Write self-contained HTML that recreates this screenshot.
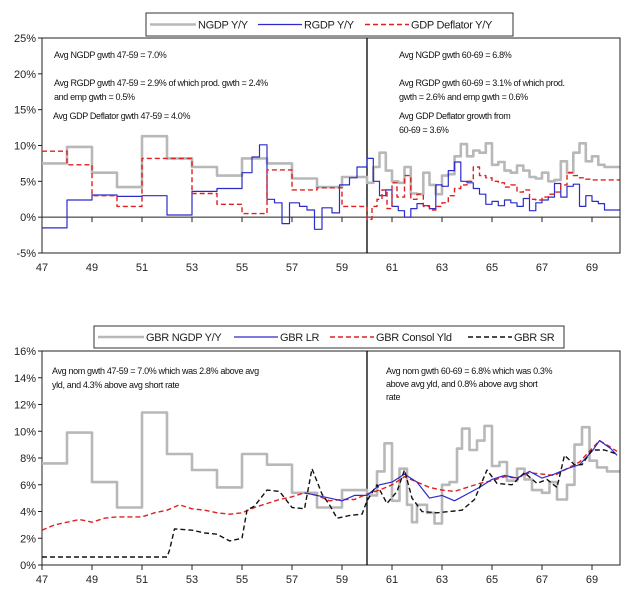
<!DOCTYPE html>
<html><head><meta charset="utf-8">
<style>
body{margin:0;background:#fff;}
svg{display:block;font-family:"Liberation Sans",sans-serif;}
.tk{font-size:11px;fill:#222;}
.ann{font-size:9px;fill:#111;letter-spacing:-0.35px;}
.lg{font-size:11px;fill:#222;letter-spacing:-0.3px;}
</style></head>
<body>
<svg id="c" width="622" height="591"></svg>
<script>
// ---- Top chart data (year, value %) ----
const ngdpX=[47,48,49,50,51,52,53,54,55,56,57,58,59,60,60.25,60.5,60.75,61,61.25,61.5,61.75,62,62.25,62.5,62.75,63,63.25,63.5,63.75,64,64.25,64.5,64.75,65,65.25,65.5,65.75,66,66.25,66.5,66.75,67,67.25,67.5,67.75,68,68.25,68.5,68.75,69,69.25,69.5,69.75];
const ngdpY=[7.5,9.8,6.2,4.2,11.3,8.2,7.0,5.8,8.2,7.5,5.4,4.2,5.6,4.8,7,9,6.5,5,4.8,7,3.3,3.2,6.2,4.5,3.2,5.8,6,8.5,10.2,8.5,9.3,9,10.3,7.3,7.7,6.5,6.2,7.2,6.5,5.6,5.4,6.2,5,5.2,7.8,6.2,9,10.3,7.8,8.5,7.3,7.0,7.0];
const rgdpX=[47,48,49,50,51,52,53,54,55,55.4,55.7,56,56.3,56.6,56.9,57.3,57.6,57.9,58.2,58.6,58.9,59.3,59.6,60,60.25,60.5,60.75,61,61.25,61.5,61.75,62,62.25,62.5,62.75,63,63.25,63.5,63.75,64,64.25,64.5,64.75,65,65.25,65.5,65.75,66,66.25,66.5,66.75,67,67.25,67.5,67.75,68,68.25,68.5,68.75,69,69.25,69.5];
const rgdpY=[-1.5,2.4,3.1,2.9,3.0,0.3,3.6,4.0,6.2,8.4,10.1,2.5,2,-0.9,2,1.5,1,-1.7,1.3,0.6,4.5,5.5,7,8.2,5,3,3.8,1.5,0.9,0,1.2,1.9,1.6,1.2,4.5,4.3,6.5,7.7,5,4.8,4,3.2,1.8,2.2,1.6,2.4,2,1.5,2.6,0.9,2.0,2.4,2.8,4.7,2.8,4.3,4.6,1.5,3,2.2,1.9,1.0];
const deflX=[47,48,49,50,51,52,53,54,55,56,57,58,59,60,60.2,60.4,60.6,60.8,61,61.2,61.5,61.75,62,62.25,62.5,62.75,63,63.25,63.5,63.75,64,64.25,64.5,64.75,65,65.25,65.5,65.75,66,66.25,66.5,66.75,67,67.25,67.5,67.75,68,68.25,68.5,68.75,69,69.5];
const deflY=[9.2,7.3,3.0,1.5,8.2,8.2,3.3,1.8,0.5,6.6,3.8,4.1,1.5,-0.3,1.5,2.5,3.8,1.2,4.8,2.8,5.8,2.5,3.2,1.5,1.0,1.5,2,3,4,4.5,5,7,5.8,5.5,5,4.8,4.2,4.5,3.5,3.8,2.5,2.4,2.8,3.2,3.5,4.5,6.2,5.8,5.5,5.3,5.2,5.2];
const topTicks=[25,20,15,10,5,0,-5];
const yearTicks=[47,49,51,53,55,57,59,61,63,65,67,69];
// ---- Bottom chart data ----
const gngX=[47,48,49,50,51,52,53,54,55,56,57,58,59,60,60.4,60.7,61,61.3,61.6,61.8,62,62.4,62.7,63,63.3,63.6,63.8,64.1,64.4,64.7,65,65.3,65.6,66,66.3,66.6,67,67.3,67.6,68,68.3,68.6,68.9,69.2,69.6];
const gngY=[7.6,9.9,6.2,4.3,11.4,8.3,7.1,5.8,8.3,7.5,5.4,4.3,5.6,5.2,7,9.1,4.8,7.2,4.5,3.2,4.5,3.9,3.1,6.0,6.2,8.7,10.2,8.6,9.3,10.4,7.4,7.7,6.3,7.2,6.4,5.6,5.4,6.2,4.9,6.0,9.0,10.3,7.8,7.3,7.0];
const conX=[47,47.5,48,48.5,49,49.5,50,50.5,51,51.5,52,52.5,53,53.5,54,54.5,55,55.5,56,56.5,57,57.5,58,58.5,59,59.5,60,60.5,61,61.5,62,62.5,63,63.5,64,64.5,65,65.5,66,66.5,67,67.5,68,68.5,69,69.3,69.75,70];
const conY=[2.6,3.0,3.2,3.4,3.2,3.5,3.6,3.6,3.6,3.9,4.1,4.5,4.2,4.1,3.9,3.8,3.9,4.3,4.6,4.9,5.1,5.4,5.2,4.8,4.9,4.9,5.3,5.6,6.0,6.6,6.2,5.8,5.6,5.5,5.8,6.1,6.3,6.6,6.5,6.9,6.8,6.7,7.2,7.7,8.7,9.3,8.8,8.5];
const lrX=[57.5,58,58.5,59,59.5,60,60.5,61,61.5,62,62.5,63,63.5,64,64.5,65,65.5,66,66.5,67,67.5,68,68.5,69,69.3,69.75,70];
const lrY=[5.4,5.2,5.0,4.8,5.2,5.2,6.0,6.2,6.8,6.2,5.0,5.2,4.8,5.3,5.8,6.4,6.7,6.5,7.0,6.5,6.8,7.2,7.5,8.5,9.3,8.7,8.2];
const srX=[47,52,52.1,52.3,53,53.5,54,54.5,55,55.2,55.5,56,56.5,57,57.5,57.8,58.2,58.5,58.8,59.3,59.8,60,60.4,60.8,61.2,61.5,61.8,62.2,62.8,63.3,63.8,64.3,64.8,65.2,65.8,66.3,66.8,67.2,67.6,67.9,68.3,68.6,69,69.5,70];
const srY=[0.6,0.6,1.1,2.7,2.6,2.4,2.3,1.8,2.0,4.1,4.4,5.6,5.5,4.3,4.2,7.2,5.3,4.5,3.5,3.7,3.8,4.8,6.0,4.6,5.5,7.1,5.0,4.0,3.9,4.0,4.1,4.9,7.1,6.1,6.0,6.9,6.1,6.4,5.8,8.2,7.5,7.5,8.6,8.6,8.3];
const botTicks=[16,14,12,10,8,6,4,2,0];

const NS="http://www.w3.org/2000/svg";
const svg=document.getElementById('c');
function mk(tag,attrs,parent){const e=document.createElementNS(NS,tag);for(const k in attrs)e.setAttribute(k,attrs[k]);(parent||svg).appendChild(e);return e;}
const X0=42,PXY=25,XR=620;
const xs=y=>X0+(y-47)*PXY;

function chart(top,bottom,ymin,ymax,ticks,zeroVal,name){
  const g=mk('g',{});
  
  
  const ys=v=>bottom-(v-ymin)/(ymax-ymin)*(bottom-top);
  const fr=mk('rect',{x:X0,y:top,width:XR-X0,height:bottom-top,fill:'none',stroke:'#222','stroke-width':1},g);
  
  ticks.forEach(t=>{
    const l=mk('line',{x1:X0-4,x2:X0,y1:ys(t),y2:ys(t),stroke:'#222'},g);
    
    const tx=mk('text',{x:X0-6,y:ys(t)+4,'text-anchor':'end',class:'tk'},g);
    tx.textContent=t+'%';
    
  });
  const zy=ys(zeroVal);
  const zl=mk('line',{x1:X0,x2:XR,y1:zy,y2:zy,stroke:'#222'},g);
  
  yearTicks.forEach(yr=>{
    const l=mk('line',{x1:xs(yr),x2:xs(yr),y1:zy,y2:zy+5,stroke:'#222'},g);
    
    const tx=mk('text',{x:xs(yr),y:bottom+18,'text-anchor':'middle',class:'tk'},g);
    tx.textContent=yr;
    
  });
  const dl=mk('line',{x1:xs(60),x2:xs(60),y1:top,y2:bottom,stroke:'#000','stroke-width':1.3},g);
  
  return {g,ys};
}
function series(c,X,Y,step,endX,style,name){
  let d='';
  for(let i=0;i<X.length;i++){
    const px=xs(X[i]).toFixed(1),py=c.ys(Y[i]).toFixed(1);
    if(i===0)d+='M'+px+','+py;
    else if(step)d+='H'+px+'V'+py;
    else d+='L'+px+','+py;
  }
  if(step)d+='H'+xs(endX).toFixed(1);
  const p=mk('path',Object.assign({d:d,fill:'none','stroke-linejoin':'round'},style),c.g);
  
  
}
function text(lines,x,y0,dy,name){
  const t=mk('text',{class:'ann'});
  
  
  lines.forEach((s,i)=>{const ts=mk('tspan',{x:x,y:y0+i*dy},t);ts.textContent=s;});
}
function legend(x,y,w,h,items,name){
  const g=mk('g',{});
  
  
  mk('rect',{x:x,y:y,width:w,height:h,fill:'#fff',stroke:'#333'},g);
  items.forEach(it=>{
    const e=mk('g',{},g);
    
    
    mk('line',Object.assign({x1:it[0],x2:it[0]+it[1],y1:y+h/2,y2:y+h/2},it[3]),e);
    const t=mk('text',{x:it[0]+it[1]+2,y:y+h/2+4,class:'lg'},e);t.textContent=it[2];
  });
}
const sGray={stroke:'#b8b8b8','stroke-width':2.6};
const sBlue={stroke:'#2b2bcc','stroke-width':1.2};
const sRed={stroke:'#e02020','stroke-width':1.4,'stroke-dasharray':'5,3'};
const sBlk={stroke:'#111','stroke-width':1.4,'stroke-dasharray':'5,3'};

// top
const c1=chart(38,253,-5,25,topTicks,0,'top-chart');
series(c1,ngdpX,ngdpY,true,70.1,sGray,'ngdp-yy-line');
series(c1,rgdpX,rgdpY,true,70.1,sBlue,'rgdp-yy-line');
series(c1,deflX,deflY,true,70.1,sRed,'gdp-deflator-yy-line');
legend(146,13,367,23,[[150,46,'NGDP Y/Y',sGray],[258,44,'RGDP Y/Y',sBlue],[365,44,'GDP Deflator Y/Y',sRed]],'top-legend');
text(['Avg NGDP gwth 47-59 = 7.0%'],54,58,0,'annotation-ngdp-47-59');
text(['Avg RGDP gwth 47-59 = 2.9% of which prod. gwth = 2.4%','and emp gwth = 0.5%'],54,86,14,'annotation-rgdp-47-59');
text(['Avg GDP Deflator gwth 47-59 = 4.0%'],53,119,0,'annotation-deflator-47-59');
text(['Avg NGDP gwth 60-69 = 6.8%'],399,58,0,'annotation-ngdp-60-69');
text(['Avg RGDP gwth 60-69 = 3.1% of which prod.','gwth = 2.6% and emp gwth = 0.6%'],399,86,14,'annotation-rgdp-60-69');
text(['Avg GDP Deflator growth from','60-69 = 3.6%'],399,119,14,'annotation-deflator-60-69');

// bottom
const c2=chart(351,565,0,16,botTicks,0,'bottom-chart');
series(c2,gngX,gngY,true,70.1,sGray,'gbr-ngdp-yy-line');
series(c2,conX,conY,false,70,sRed,'gbr-consol-yld-line');
series(c2,lrX,lrY,false,70,sBlue,'gbr-lr-line');
series(c2,srX,srY,false,70,sBlk,'gbr-sr-line');
legend(94,326,470,22,[[98,46,'GBR NGDP Y/Y',sGray],[234,44,'GBR LR',sBlue],[330,44,'GBR Consol Yld',sRed],[468,44,'GBR SR',sBlk]],'bottom-legend');
text(['Avg nom gwth 47-59 = 7.0% which was 2.8% above avg','yld, and 4.3% above avg short rate'],52,374,14,'annotation-nom-47-59');
text(['Avg nom gwth 60-69 = 6.8% which was 0.3%','above avg yld, and 0.8% above avg short','rate'],386,374,13,'annotation-nom-60-69');
</script>
</body></html>
